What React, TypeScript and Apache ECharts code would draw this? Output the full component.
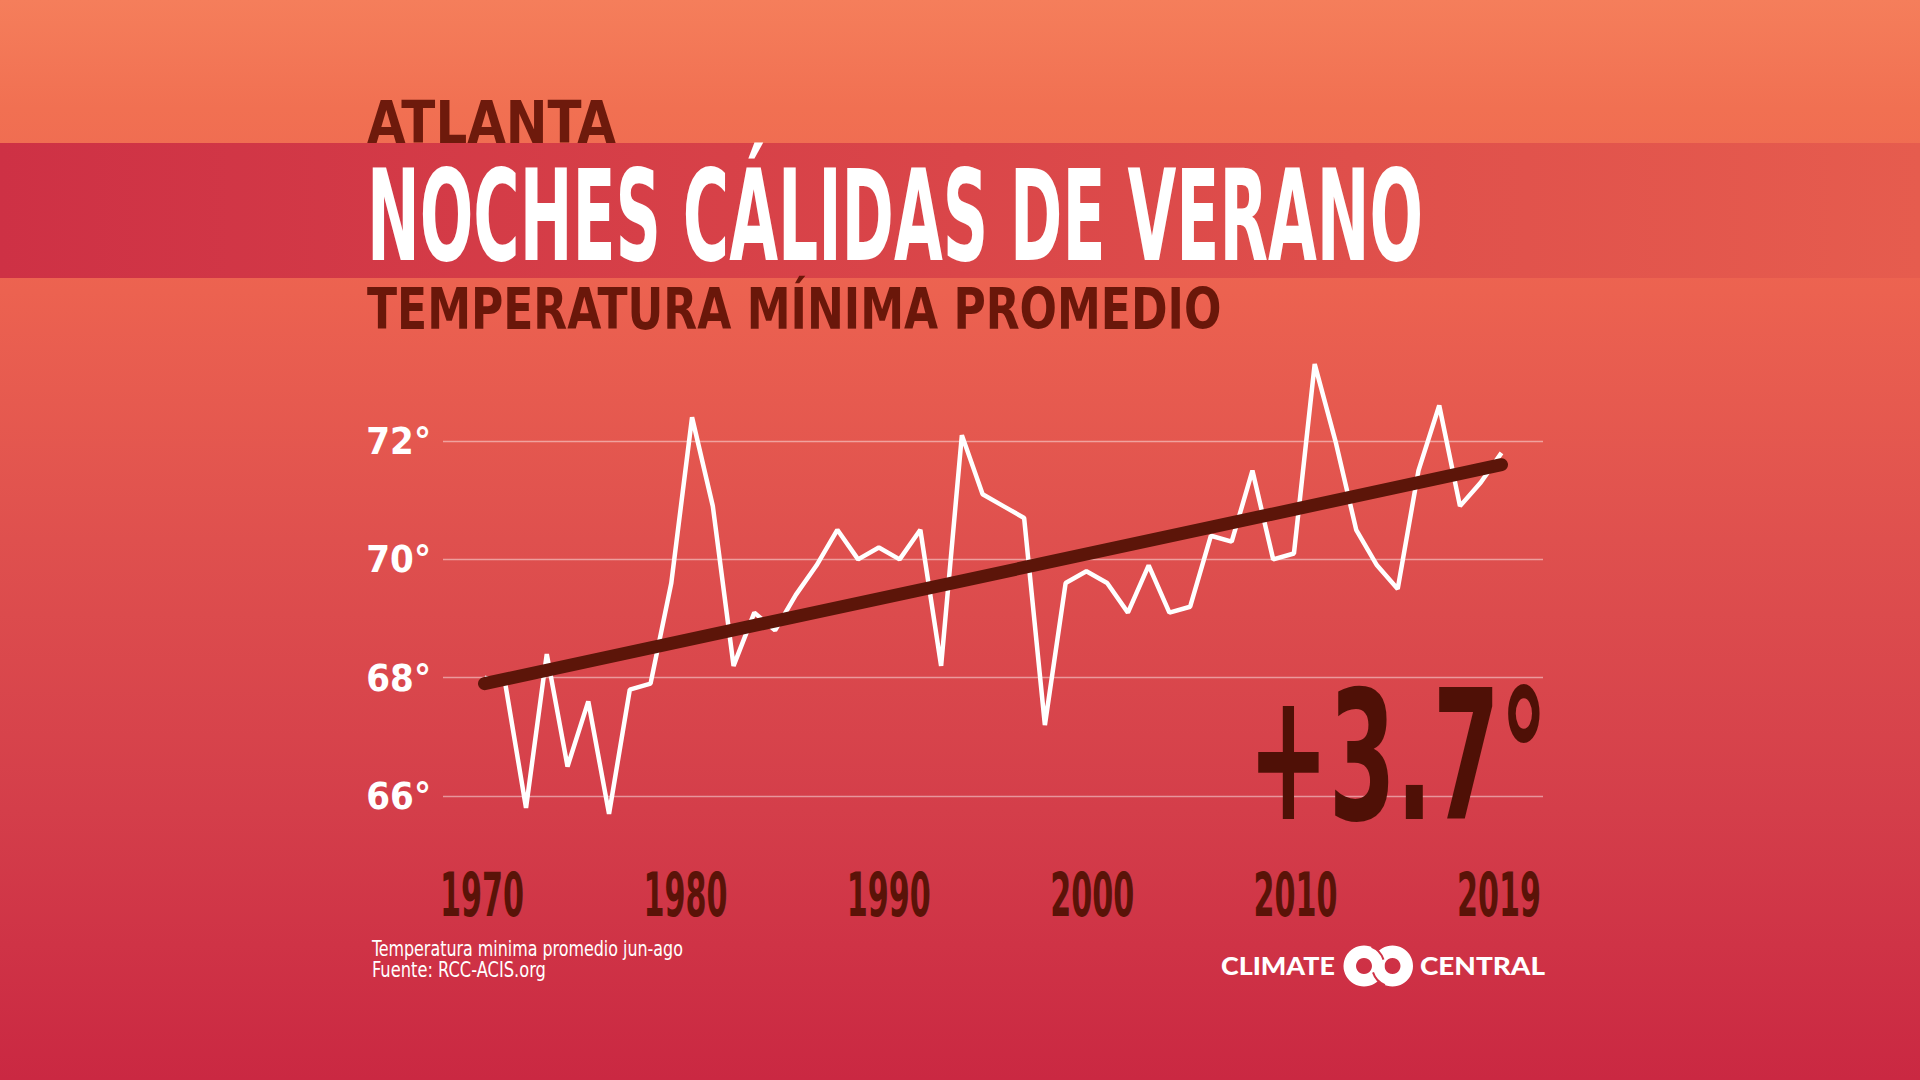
import React, { useEffect, useRef } from "react";
import * as echarts from "echarts";

// Atlanta, average summer (Jun–Aug) minimum temperature, °F
const years = [
  1970, 1971, 1972, 1973, 1974, 1975, 1976, 1977, 1978, 1979,
  1980, 1981, 1982, 1983, 1984, 1985, 1986, 1987, 1988, 1989,
  1990, 1991, 1992, 1993, 1994, 1995, 1996, 1997, 1998, 1999,
  2000, 2001, 2002, 2003, 2004, 2005, 2006, 2007, 2008, 2009,
  2010, 2011, 2012, 2013, 2014, 2015, 2016, 2017, 2018, 2019,
];
const minTemps = [
  68.0, 67.9, 65.8, 68.4, 66.5, 67.6, 65.7, 67.8, 67.9, 69.6,
  72.4, 70.9, 68.2, 69.1, 68.8, 69.4, 69.9, 70.5, 70.0, 70.2,
  70.0, 70.5, 68.2, 72.1, 71.1, 70.9, 70.7, 67.2, 69.6, 69.8,
  69.6, 69.1, 69.9, 69.1, 69.2, 70.4, 70.3, 71.5, 70.0, 70.1,
  73.3, 72.0, 70.5, 69.9, 69.5, 71.5, 72.6, 70.9, 71.3, 71.8,
];

// Linear trend over the period
const trendYears = [1970, 2019];
const trendStart = 67.9;
const trendChange = 3.7;

// Axis labels
const yearLabels = ["1970", "1980", "1990", "2000", "2010", "2019"];
const tempMin = 64;
const tempMax = 74;
const tempStep = 2;

const NARROW = '"Liberation Sans Narrow", "DejaVu Sans Condensed", Roboto, sans-serif';
const DARK = "#5A1308";

function widthScale(text: string, font: string, target: number): number {
  const ctx = document.createElement("canvas").getContext("2d");
  if (!ctx) return 1;
  ctx.font = font;
  const w = ctx.measureText(text).width;
  return w > 0 ? target / w : 1;
}

function fittedText(
  text: string,
  x: number,
  y: number,
  size: number,
  weight: string,
  family: string,
  fill: string,
  targetWidth: number,
  extra: Record<string, unknown> = {}
) {
  const font = `${weight} ${size}px ${family}`;
  return {
    type: "text",
    x,
    y,
    scaleX: widthScale(text, font, targetWidth),
    z: 10,
    style: {
      text,
      font,
      fill,
      align: "left",
      verticalAlign: "middle",
      ...extra,
    },
  };
}

export default function App() {
  const ref = useRef<HTMLDivElement>(null);

  useEffect(() => {
    if (!ref.current) return;
    const chart = echarts.init(ref.current, null, { renderer: "svg" });

    const trendEnd = trendStart + trendChange;
    const changeLabel = `+${trendChange.toFixed(1)}°`;

    chart.setOption({
      animation: false,
      backgroundColor: {
        type: "linear",
        x: 0,
        y: 0,
        x2: 0,
        y2: 1,
        colorStops: [
          { offset: 0, color: "#F57E5B" },
          { offset: 0.1, color: "#F17052" },
          { offset: 0.27, color: "#EC6250" },
          { offset: 0.5, color: "#DF504E" },
          { offset: 0.75, color: "#D43E4A" },
          { offset: 1, color: "#CA2842" },
        ],
      },
      grid: [
        { left: 443, top: 322.7, width: 1100, height: 591.7 },
        { left: 482, top: 870, width: 1017, height: 1 },
      ],
      xAxis: [
        {
          type: "value",
          gridIndex: 0,
          min: 1968,
          max: 2021,
          show: false,
        },
        {
          // evenly spaced year captions along the bottom
          type: "category",
          gridIndex: 1,
          data: yearLabels,
          boundaryGap: false,
          axisLine: { show: false },
          axisTick: { show: false },
          splitLine: { show: false },
          axisLabel: { show: false },
        },
      ],
      yAxis: [
        {
          type: "value",
          gridIndex: 0,
          min: tempMin,
          max: tempMax,
          interval: tempStep,
          axisLine: { show: false },
          axisTick: { show: false },
          splitLine: {
            show: true,
            showMinLine: false,
            showMaxLine: false,
            lineStyle: { color: "rgba(255,255,255,0.45)", width: 1.3 },
          },
          axisLabel: {
            showMinLabel: false,
            showMaxLabel: false,
            formatter: "{value}°",
            margin: 12,
            color: "#FFFFFF",
            fontFamily: NARROW,
            fontWeight: "bold",
            fontSize: 38,
          },
        },
        { type: "value", gridIndex: 1, show: false },
      ],
      series: [
        {
          name: "Temperatura mínima",
          type: "line",
          xAxisIndex: 0,
          yAxisIndex: 0,
          data: years.map((yr, i) => [yr, minTemps[i]]),
          symbol: "none",
          showSymbol: false,
          clip: false,
          lineStyle: { color: "#FFFFFF", width: 4.5, join: "bevel" },
          z: 2,
        },
        {
          name: "Tendencia",
          type: "line",
          xAxisIndex: 0,
          yAxisIndex: 0,
          data: [
            [trendYears[0], trendStart],
            [trendYears[1], trendEnd],
          ],
          symbol: "none",
          showSymbol: false,
          clip: false,
          lineStyle: { color: "#5C1509", width: 13, cap: "round" },
          z: 3,
        },
      ],
    });

    // Year captions, placed on the category axis positions
    const yearFont = `bold 60px ${NARROW}`;
    const yearTexts = yearLabels.map((label, i) => {
      const x = chart.convertToPixel({ xAxisIndex: 1 }, i) as number;
      return {
        type: "text",
        x,
        y: 895,
        scaleX: widthScale(label, yearFont, 84),
        z: 10,
        style: {
          text: label,
          font: yearFont,
          fill: DARK,
          align: "center",
          verticalAlign: "middle",
        },
      };
    });

    chart.setOption({
      graphic: [
        {
          type: "rect",
          z: 0,
          shape: { x: 0, y: 143, width: 1920, height: 135 },
          style: {
            fill: {
              type: "linear",
              x: 0,
              y: 0,
              x2: 1,
              y2: 0,
              colorStops: [
                { offset: 0, color: "#CE3145" },
                { offset: 0.5, color: "#DA4649" },
                { offset: 1, color: "#E65C4E" },
              ],
            },
          },
        },
        fittedText("ATLANTA", 367, 123, 58, "bold", NARROW, "#6E1A0C", 249),
        fittedText("NOCHES CÁLIDAS DE VERANO", 367, 216, 127, "bold", NARROW, "#FFFFFF", 1056),
        fittedText("TEMPERATURA MÍNIMA PROMEDIO", 367, 310, 57, "bold", NARROW, "#6A170A", 854),
        fittedText(changeLabel, 1248, 756, 180, "bold", NARROW, "#4F1006", 300),
        ...yearTexts,
        fittedText("Temperatura minima promedio jun-ago", 372, 949, 21, "normal", NARROW, "#FFFFFF", 311),
        fittedText("Fuente: RCC-ACIS.org", 372, 970, 21, "normal", NARROW, "#FFFFFF", 174),
        fittedText("CLIMATE", 1221, 966, 24, "900", "Lato, sans-serif", "#FFFFFF", 114),
        fittedText("CENTRAL", 1420, 966, 24, "900", "Lato, sans-serif", "#FFFFFF", 125),
        {
          type: "ring",
          z: 10,
          shape: { cx: 1364, cy: 966, r: 20.5, r0: 8 },
          style: { fill: "#FFFFFF" },
        },
        {
          type: "ring",
          z: 10,
          shape: { cx: 1392.5, cy: 966, r: 20.5, r0: 8 },
          style: { fill: "#FFFFFF" },
        },
        {
          // seam where the two rings interlock
          type: "arc",
          z: 11,
          shape: { cx: 1392.5, cy: 966, r: 20.5, startAngle: Math.PI * 0.62, endAngle: Math.PI * 0.9 },
          style: { stroke: "#D03346", lineWidth: 2, fill: "none" },
        },
        {
          type: "arc",
          z: 11,
          shape: { cx: 1364, cy: 966, r: 20.5, startAngle: -Math.PI * 0.38, endAngle: -Math.PI * 0.1 },
          style: { stroke: "#D03346", lineWidth: 2, fill: "none" },
        },
      ],
    });

    return () => chart.dispose();
  }, []);

  return (
    <div
      ref={ref}
      style={{ position: "absolute", left: 0, top: 0, width: 1920, height: 1080 }}
    />
  );
}
